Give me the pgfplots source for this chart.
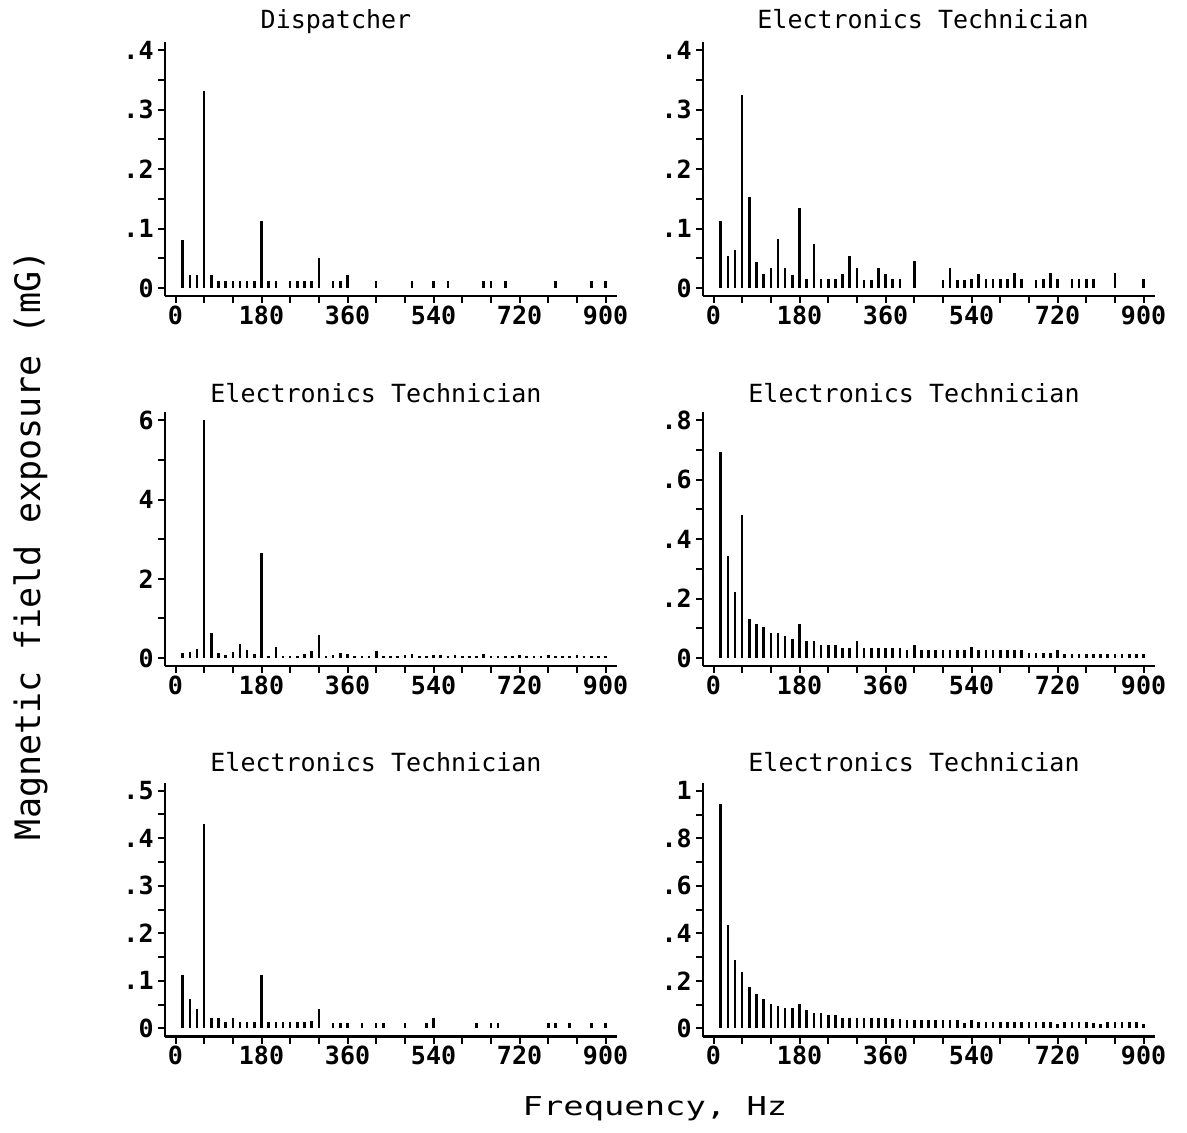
\documentclass[border=0pt]{standalone}
\usepackage{fontspec}
\setmainfont{DejaVu Sans Mono}
\usepackage{pgfplots}
\pgfplotsset{compat=1.18}
\usepackage{pgfplotstable}

% Harmonic spectra, 15 Hz bins: frequency (Hz), field (mG)
\pgfplotstableread{
f v
15 0.08
30 0.021
45 0.021
60 0.331
75 0.021
90 0.011
105 0.011
120 0.011
135 0.011
150 0.011
165 0.011
180 0.112
195 0.012
210 0.012
240 0.012
255 0.012
270 0.012
285 0.012
300 0.051
330 0.012
345 0.012
360 0.022
420 0.012
495 0.012
540 0.012
570 0.012
645 0.012
660 0.012
690 0.012
795 0.012
870 0.012
900 0.012
}\dispatcher

\pgfplotstableread{
f v
15 0.113
30 0.054
45 0.064
60 0.324
75 0.153
90 0.044
105 0.023
120 0.034
135 0.083
150 0.034
165 0.022
180 0.134
195 0.015
210 0.074
225 0.015
240 0.015
255 0.015
270 0.023
285 0.054
300 0.034
315 0.013
330 0.013
345 0.034
360 0.023
375 0.015
390 0.015
420 0.045
480 0.013
495 0.034
510 0.013
525 0.013
540 0.015
555 0.023
570 0.015
585 0.015
600 0.015
615 0.015
630 0.025
645 0.015
675 0.013
690 0.015
705 0.025
720 0.015
750 0.015
765 0.015
780 0.015
795 0.015
840 0.025
900 0.015
}\techA

\pgfplotstableread{
f v
15 0.13
30 0.15
45 0.23
60 6.0
75 0.62
90 0.13
105 0.07
120 0.15
135 0.34
150 0.19
165 0.09
180 2.66
195 0.06
210 0.27
225 0.05
240 0.05
255 0.05
270 0.09
285 0.17
300 0.57
315 0.05
330 0.07
345 0.13
360 0.09
375 0.05
390 0.05
405 0.05
420 0.17
435 0.05
450 0.05
465 0.05
480 0.07
495 0.10
510 0.05
525 0.05
540 0.07
555 0.07
570 0.05
585 0.07
600 0.05
615 0.05
630 0.05
645 0.09
660 0.05
675 0.05
690 0.05
705 0.05
720 0.07
735 0.05
750 0.05
765 0.05
780 0.07
795 0.05
810 0.05
825 0.05
840 0.07
855 0.05
870 0.05
885 0.05
900 0.05
}\techB

\pgfplotstableread{
f v
15 0.692
30 0.345
45 0.223
60 0.480
75 0.132
90 0.114
105 0.104
120 0.084
135 0.084
150 0.075
165 0.064
180 0.116
195 0.058
210 0.056
225 0.045
240 0.045
255 0.045
270 0.034
285 0.034
300 0.056
315 0.034
330 0.034
345 0.034
360 0.034
375 0.034
390 0.034
405 0.028
420 0.045
435 0.028
450 0.028
465 0.028
480 0.028
495 0.028
510 0.028
525 0.028
540 0.036
555 0.028
570 0.028
585 0.028
600 0.028
615 0.028
630 0.028
645 0.028
660 0.017
675 0.017
690 0.017
705 0.017
720 0.028
735 0.015
750 0.015
765 0.015
780 0.015
795 0.015
810 0.015
825 0.015
840 0.015
855 0.015
870 0.015
885 0.015
900 0.015
}\techC

\pgfplotstableread{
f v
15 0.112
30 0.062
45 0.041
60 0.430
75 0.022
90 0.022
105 0.014
120 0.022
135 0.014
150 0.014
165 0.014
180 0.112
195 0.014
210 0.014
225 0.014
240 0.014
255 0.014
270 0.014
285 0.016
300 0.040
330 0.012
345 0.012
360 0.012
390 0.012
420 0.012
435 0.012
480 0.012
525 0.012
540 0.021
630 0.012
660 0.012
675 0.012
780 0.012
795 0.012
825 0.012
870 0.012
900 0.012
}\techD

\pgfplotstableread{
f v
15 0.945
30 0.437
45 0.286
60 0.237
75 0.174
90 0.146
105 0.126
120 0.105
135 0.094
150 0.084
165 0.084
180 0.105
195 0.076
210 0.066
225 0.063
240 0.055
255 0.055
270 0.045
285 0.045
300 0.045
315 0.045
330 0.045
345 0.045
360 0.042
375 0.038
390 0.038
405 0.036
420 0.036
435 0.036
450 0.036
465 0.036
480 0.036
495 0.036
510 0.034
525 0.024
540 0.034
555 0.028
570 0.028
585 0.028
600 0.028
615 0.028
630 0.028
645 0.028
660 0.028
675 0.028
690 0.028
705 0.028
720 0.017
735 0.028
750 0.028
765 0.028
780 0.028
795 0.024
810 0.017
825 0.028
840 0.028
855 0.028
870 0.028
885 0.028
900 0.017
}\techE

\pgfplotsset{
  stem panel/.style={
    scale only axis, width=226pt, height=127pt,
    anchor=south west,
    axis x line*=bottom, axis y line*=left,
    axis line style={line width=1.2pt, black},
    xmin=-22, xmax=924,
    xtick={0,60,...,900},
    xticklabels={0,,,180,,,360,,,540,,,720,,,900},
    minor y tick num=1,
    tick align=outside,
    major tick length=3.5pt, minor tick length=3.5pt,
    every tick/.style={line width=1pt, black},
    /pgf/number format/assume math mode=true,
    ticklabel style={font=\fontsize{12.5}{13}\selectfont\bfseries},
    xticklabel style={inner sep=1.2pt},
    yticklabel style={inner sep=2pt},
  },
  stems/.style={ycomb, black, line width=1.3pt, mark=none},
}

\newcommand{\titlefont}{\fontsize{12.5}{14}\selectfont}

\begin{document}
\begin{tikzpicture}
\useasboundingbox (0,0) rectangle (593.5pt,-566pt);

% Row 1
\begin{axis}[stem panel, at={(82.5pt,-148pt)},
  ymin=-0.0136, ymax=0.414,
  ytick={0,0.1,0.2,0.3,0.4}, yticklabels={0,.1,.2,.3,.4}]
\addplot[stems] table[x=f, y=v] {\dispatcher};
\end{axis}
\begin{axis}[stem panel, at={(351.5pt,-148pt)},
  ymin=-0.0136, ymax=0.414,
  ytick={0,0.1,0.2,0.3,0.4}, yticklabels={0,.1,.2,.3,.4}]
\addplot[stems] table[x=f, y=v] {\techA};
\end{axis}

% Row 2
\begin{axis}[stem panel, at={(82.5pt,-333pt)},
  ymin=-0.204, ymax=6.21,
  ytick={0,2,4,6}, yticklabels={0,2,4,6}]
\addplot[stems] table[x=f, y=v] {\techB};
\end{axis}
\begin{axis}[stem panel, at={(351.5pt,-333pt)},
  ymin=-0.027, ymax=0.828,
  ytick={0,0.2,0.4,0.6,0.8}, yticklabels={0,.2,.4,.6,.8}]
\addplot[stems] table[x=f, y=v] {\techC};
\end{axis}

% Row 3
\begin{axis}[stem panel, at={(82.5pt,-518.25pt)},
  ymin=-0.017, ymax=0.517,
  ytick={0,0.1,0.2,0.3,0.4,0.5}, yticklabels={0,.1,.2,.3,.4,.5}]
\addplot[stems] table[x=f, y=v] {\techD};
\end{axis}
\begin{axis}[stem panel, at={(351.5pt,-518.25pt)},
  ymin=-0.034, ymax=1.035,
  ytick={0,0.2,0.4,0.6,0.8,1}, yticklabels={0,.2,.4,.6,.8,1}]
\addplot[stems] table[x=f, y=v] {\techE};
\end{axis}

% Panel titles
\node[anchor=base] at (168pt,-14.2pt) {\titlefont Dispatcher};
\node[anchor=base] at (461.5pt,-14.2pt) {\titlefont Electronics Technician};
\node[anchor=base] at (188pt,-201pt) {\titlefont Electronics Technician};
\node[anchor=base] at (457pt,-201pt) {\titlefont Electronics Technician};
\node[anchor=base] at (188pt,-385.5pt) {\titlefont Electronics Technician};
\node[anchor=base] at (457pt,-385.5pt) {\titlefont Electronics Technician};

% Shared axis labels
\node[anchor=base, rotate=90] at (20pt,-272.5pt)
  {\fontsize{17.5}{20}\selectfont Magnetic field exposure (mG)};
\node[anchor=base] at (327.5pt,-557.5pt)
  {\scalebox{1.3}[1]{\fontsize{13}{15}\selectfont Frequency, Hz}};
\end{tikzpicture}
\end{document}
